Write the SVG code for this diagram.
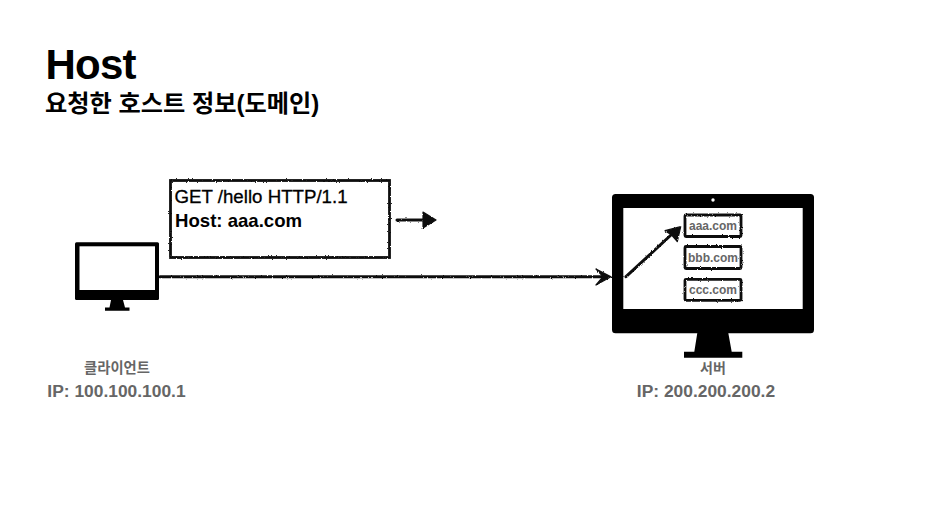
<svg xmlns="http://www.w3.org/2000/svg" width="930" height="515" viewBox="0 0 930 515">
<style>
text{font-family:"Liberation Sans","Noto Sans CJK KR",sans-serif}
.h{font-weight:700;fill:#000}
.m{fill:#000;stroke:#000;stroke-width:.3}
.g{font-weight:700;fill:#666}
.sk{fill:#fff;stroke:#111;stroke-width:2.8}
.sm{fill:#fff;stroke:#111;stroke-width:2.8}
.ln{fill:none;stroke:#111;stroke-width:3;stroke-linecap:round}
.ah{fill:#111;stroke:#111;stroke-width:1.2;stroke-linejoin:round}
.b{fill:#000}.w{fill:#fff}
</style>
<defs>
<filter id="roughU" filterUnits="userSpaceOnUse" x="0" y="0" width="930" height="515">
<feTurbulence type="fractalNoise" baseFrequency="0.8" numOctaves="2" seed="7"/>
<feDisplacementMap in="SourceGraphic" scale="2.4" xChannelSelector="R" yChannelSelector="G"/>
</filter>
</defs>
<rect width="930" height="515" fill="#fff"/>
<g id="title">
<text class="h" x="45.500" y="79" font-size="42" letter-spacing="-0.8">Host</text>
<text class="h" x="45" y="112" font-size="24.200">요청한 호스트 정보(도메인)</text>
</g>
<g id="request-box">
<rect class="sk" x="170.500" y="180.500" width="219" height="77" filter="url(#roughU)"/>
<text class="m" x="174.500" y="203" font-size="18.700">GET /hello HTTP/1.1</text>
<text class="h" x="175" y="227" font-size="18.600">Host: aaa.com</text>
</g>
<g id="client">
<rect class="b" x="75" y="242.300" width="84" height="57.700" rx="1.500"/>
<rect class="w" x="79.500" y="246.300" width="75.500" height="43.700"/>
<path class="b" d="M111 300h12l2 7.500h4.500v3.300h-24.500v-3.300h4.500z"/>
<text class="g" x="117" y="373" font-size="14.300" text-anchor="middle">클라이언트</text>
<text class="g" x="116.500" y="397" font-size="17.400" text-anchor="middle">IP: 100.100.100.1</text>
</g>
<g id="server">
<rect class="b" x="612" y="194" width="202" height="139.300" rx="3.500"/>
<circle class="w" cx="713" cy="200" r="1.700"/>
<rect class="w" x="623.300" y="208" width="179.400" height="101"/>
<path class="b" d="M697.300 333h31l3.400 18.700h10.600v6h-58.300v-6h10.300z"/>
<text class="g" x="713" y="373" font-size="14" text-anchor="middle">서버</text>
<text class="g" x="706" y="397" font-size="17.400" text-anchor="middle">IP: 200.200.200.2</text>
</g>
<g id="aaa">
<rect class="sm" x="685" y="215" width="56" height="21.500" rx="1" filter="url(#roughU)"/>
<text class="g" x="713" y="230" font-size="12" text-anchor="middle">aaa.com</text>
</g>
<g id="bbb">
<rect class="sm" x="685" y="246.500" width="56" height="22" rx="1" filter="url(#roughU)"/>
<text class="g" x="713" y="262" font-size="12" text-anchor="middle">bbb.com</text>
</g>
<g id="ccc">
<rect class="sm" x="685" y="279.300" width="56" height="21" rx="1" filter="url(#roughU)"/>
<text class="g" x="713" y="293.500" font-size="12" text-anchor="middle">ccc.com</text>
</g>
<g id="connectors" filter="url(#roughU)">
<path class="ln" d="M160 276.700H604"/>
<path class="ah" d="M596 269L611 276.700L596 285L603 276.700z"/>
<path class="ln" d="M397 220H426"/>
<path class="ah" d="M423 212L436 220L423 228z"/>
<path class="ln" d="M626 276.700L671 235"/>
<path class="ah" d="M665 230.700L680.700 226.700L677.300 241.700L671.700 235z"/>
</g>
</svg>
